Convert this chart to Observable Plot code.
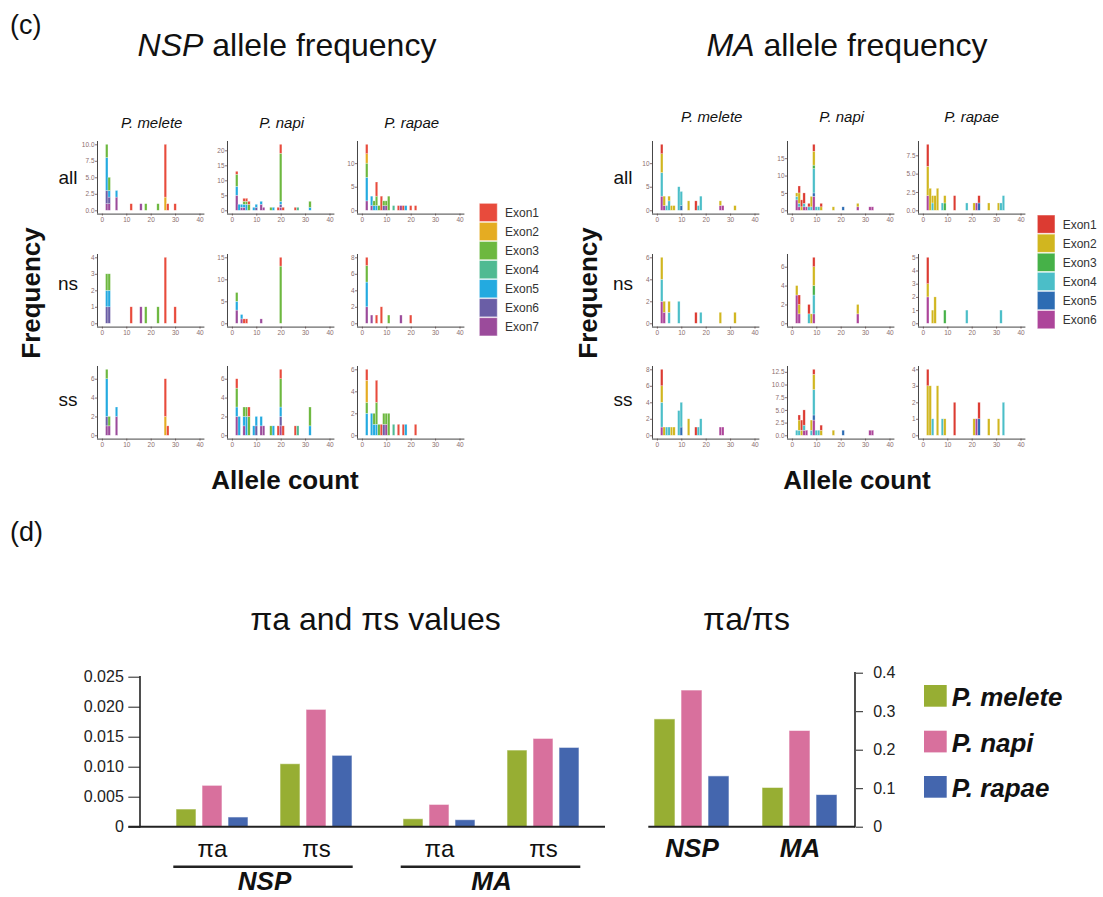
<!DOCTYPE html>
<html><head><meta charset="utf-8">
<script src="https://cdn.jsdelivr.net/npm/d3@7"></script>
<script src="https://cdn.jsdelivr.net/npm/@observablehq/plot@0.6"></script>
<style>
body{margin:0;background:#fff;}
#root{position:relative;width:1103px;height:897px;overflow:hidden;font-family:"Liberation Sans",Arial,Helvetica,sans-serif;}
</style></head><body><div id="root"></div>
<script>
// ---------- (c) allele frequency data: [allele count, exon number, frequency] ----------
const nspExons = ["Exon1","Exon2","Exon3","Exon4","Exon5","Exon6","Exon7"];
const nspColors = ["#e84b3c","#e5ac22","#6db83f","#4fba92","#23aae0","#6a5ea6","#9b4b9b"];
const maExons = ["Exon1","Exon2","Exon3","Exon4","Exon5","Exon6"];
const maColors = ["#dc3b32","#d1b61f","#46b148","#4bbec8","#2d6cb3","#ad459a"];
const speciesNames = ["P. melete","P. napi","P. rapae"];
const rowNames = ["all","ns","ss"];

const nspMeleteAll = [[2,7,1],[2,6,2],[2,5,5],[2,3,2],[3,7,1],[3,6,1],[3,5,1],[3,3,2],[6,7,2],[6,5,1],[12,1,1],[16,7,1],[18,3,1],[23,3,1],[26,2,2],[26,1,8],[27,1,1],[30,1,1]];
const nspMeleteNs = [[2,6,1],[2,5,1],[2,3,1],[3,6,1],[3,5,1],[3,3,1],[12,1,1],[16,7,1],[18,3,1],[23,3,1],[26,1,4],[30,1,1]];
const nspMeleteSs = [[2,7,1],[2,6,1],[2,5,4],[2,3,1],[3,7,1],[3,3,1],[6,7,2],[6,5,1],[26,2,2],[26,1,4],[27,1,1]];
const nspNapiAll = [[2,7,5],[2,5,3],[2,3,4],[2,1,1],[3,5,2],[4,7,1],[4,5,1],[5,7,1],[5,5,1],[5,3,1],[5,1,1],[6,5,2],[6,3,1],[6,1,1],[7,3,2],[7,1,1],[9,5,1],[10,6,1],[10,5,1],[12,7,2],[12,5,1],[13,7,1],[16,3,1],[17,5,1],[19,1,1],[20,7,1],[20,6,1],[20,5,1],[20,3,16],[20,1,3],[21,1,1],[26,1,1],[27,4,1],[32,5,1],[32,3,2]];
const nspNapiNs = [[2,7,3],[2,5,2],[2,3,2],[4,7,1],[4,5,1],[5,1,1],[6,1,1],[12,7,1],[20,3,13],[20,1,2]];
const nspNapiSs = [[2,7,2],[2,5,1],[2,3,2],[2,1,1],[3,5,2],[5,7,1],[5,5,1],[5,3,1],[6,5,2],[6,3,1],[7,3,2],[7,1,1],[9,5,1],[10,6,1],[10,5,1],[12,7,1],[12,5,1],[13,7,1],[16,3,1],[17,5,1],[19,1,1],[20,7,1],[20,6,1],[20,5,1],[20,3,3],[20,1,1],[21,1,1],[26,1,1],[27,4,1],[32,5,1],[32,3,2]];
const nspRapaeAll = [[2,7,2],[2,5,5],[2,3,3],[2,2,2],[2,1,2],[4,7,1],[4,5,2],[5,5,1],[5,3,1],[6,5,1],[6,3,2],[6,1,3],[7,3,1],[8,1,3],[9,6,1],[9,3,1],[10,7,1],[10,3,1],[11,3,3],[13,4,1],[15,1,1],[16,7,1],[17,1,1],[18,5,1],[20,1,1],[22,1,1]];
const nspRapaeNs = [[2,7,2],[2,5,3],[2,3,2],[2,1,1],[4,7,1],[6,1,1],[8,1,2],[11,3,1],[16,7,1],[20,1,1]];
const nspRapaeSs = [[2,5,2],[2,3,1],[2,2,2],[2,1,1],[4,5,2],[5,5,1],[5,3,1],[6,5,1],[6,3,2],[6,1,2],[7,3,1],[8,1,1],[9,6,1],[9,3,1],[10,7,1],[10,3,1],[11,3,2],[13,4,1],[15,1,1],[17,1,1],[18,5,1],[22,1,1]];

const maMeleteAll = [[2,6,3],[2,4,5],[2,2,4],[2,1,2],[3,6,1],[3,2,2],[4,4,1],[5,4,2],[5,2,1],[6,2,1],[7,2,1],[9,4,5],[10,5,1],[10,4,3],[13,2,2],[16,1,2],[17,4,1],[18,4,3],[26,6,1],[26,2,1],[27,6,1],[32,2,1]];
const maMeleteNs = [[2,6,2],[2,4,2],[2,2,2],[3,6,1],[3,2,1],[5,4,1],[5,2,1],[9,4,2],[16,1,1],[18,4,1],[26,2,1],[32,2,1]];
const maMeleteSs = [[2,6,1],[2,4,3],[2,2,2],[2,1,2],[3,2,1],[4,4,1],[5,4,1],[6,2,1],[7,2,1],[9,4,3],[10,5,1],[10,4,3],[13,2,2],[16,1,1],[17,4,1],[18,4,2],[26,6,1],[27,6,1]];
const maNapiAll = [[2,6,3],[2,4,1],[2,2,1],[3,6,1],[3,4,1],[3,2,3],[3,1,2],[4,2,1],[4,1,2],[5,6,1],[5,4,1],[5,1,3],[6,6,1],[7,4,1],[7,1,1],[8,4,1],[8,2,3],[9,6,4],[9,5,1],[9,4,7],[9,3,1],[9,2,4],[9,1,2],[10,4,1],[11,4,1],[12,2,1],[12,1,1],[17,2,1],[21,5,1],[27,6,1],[27,2,1],[32,6,1],[33,6,1]];
const maNapiNs = [[2,6,3],[2,2,1],[3,6,1],[3,2,1],[3,1,1],[7,4,1],[7,1,1],[8,2,1],[9,6,1],[9,4,2],[9,3,1],[9,2,2],[9,1,1],[27,6,1],[27,2,1]];
const maNapiSs = [[2,4,1],[3,4,1],[3,2,2],[3,1,1],[4,2,1],[4,1,2],[5,6,1],[5,4,1],[5,1,3],[6,6,1],[8,4,1],[8,2,2],[9,6,3],[9,5,1],[9,4,5],[9,2,3],[9,1,1],[10,4,1],[11,4,1],[12,2,1],[12,1,1],[17,2,1],[21,5,1],[32,6,1],[33,6,1]];
const maRapaeAll = [[2,6,2],[2,2,4],[2,1,3],[3,2,3],[4,4,1],[4,2,1],[5,2,2],[6,2,3],[8,4,1],[9,3,1],[9,2,1],[13,1,2],[18,4,1],[21,2,1],[22,6,1],[23,5,1],[23,1,1],[27,2,1],[31,2,1],[32,4,1],[33,4,2]];
const maRapaeNs = [[2,6,2],[2,2,1],[2,1,2],[4,2,1],[5,2,2],[9,3,1],[18,4,1],[32,4,1]];
const maRapaeSs = [[2,2,3],[2,1,1],[3,2,3],[4,4,1],[6,2,3],[8,4,1],[9,2,1],[13,1,2],[21,2,1],[22,6,1],[23,5,1],[23,1,1],[27,2,1],[31,2,1],[33,4,2]];

// y tick labels per panel (rows: all, ns, ss; columns: melete, napi, rapae)
const nspYTicks = [
  [[0,2.5,5,7.5,10],[0,5,10,15,20],[0,5,10]],
  [[0,1,2,3,4],[0,5,10,15],[0,2,4,6,8]],
  [[0,2,4,6],[0,2,4,6],[0,2,4,6]]
];
const maYTicks = [
  [[0,5,10],[0,5,10,15],[0,2.5,5,7.5]],
  [[0,2,4,6],[0,2,4,6],[0,1,2,3,4,5]],
  [[0,2,4,6,8],[0,2.5,5,7.5,10,12.5],[0,1,2,3,4]]
];
const xTicks = [0,10,20,30,40];

// ---------- (d) nucleotide diversity ----------
const dSpecies = ["P. melete","P. napi","P. rapae"];
const dColors = ["#97ae33","#d8709d","#4466ae"];
const genes = ["NSP","MA"];
const piA_NSP = [0.00295,0.0069,0.00162];
const piS_NSP = [0.0105,0.01956,0.0119];
const piA_MA = [0.00133,0.00372,0.00117];
const piS_MA = [0.01278,0.01472,0.01322];
const ratio_NSP = [0.280,0.355,0.132];
const ratio_MA = [0.102,0.250,0.0835];
const leftTicks = [0,0.005,0.010,0.015,0.020,0.025];
const rightTicks = [0,0.1,0.2,0.3,0.4];

// ---------- layout ----------
const FONT = "Liberation Sans, Arial, Helvetica, sans-serif";
const root = document.getElementById("root");
function place(el, left, top){ el.style.position="absolute"; el.style.left=left+"px"; el.style.top=top+"px"; root.appendChild(el); }

function panel(rows, yTicks, exonNames, exonColors, axisLeft, baseline){
  const totals = d3.rollup(rows, v => d3.sum(v, d => d[2]), d => d[0]);
  const yMax = d3.max(totals.values());
  const ext = yMax*0.05;
  const mL=20,mR=6,mT=4,mB=12,pw=107.4,ph=72.6;
  const dec = yTicks.some(t => !Number.isInteger(t));
  const fmt = dec ? d3.format(".1f") : d3.format("d");
  const chart = Plot.plot({
    width: mL+pw+mR, height: mT+ph+mB,
    marginLeft: mL, marginRight: mR, marginTop: mT, marginBottom: mB,
    style: {fontSize:"6.5px", fontFamily: FONT, color:"#8c6e6e", background:"transparent", overflow:"visible"},
    x: {domain:[-2,42], ticks: xTicks, tickSize:2, tickPadding:1, label:null},
    y: {domain:[-ext, yMax+ext], ticks: yTicks, tickSize:2, tickPadding:1, label:null, tickFormat: fmt},
    color: {domain: exonNames, range: exonColors},
    marks: [
      Plot.rectY(rows, {x1: d => d[0]-0.5, x2: d => d[0]+0.5, y: d => d[2], fill: d => exonNames[d[1]-1],
        order: "z", reverse: true, stroke: "white", strokeOpacity: 0.55, strokeWidth: 0.5}),
      Plot.ruleX([-2], {stroke:"#444", strokeWidth:1}),
      Plot.ruleY([-ext], {stroke:"#444", strokeWidth:1})
    ]
  });
  place(chart, axisLeft - mL, baseline - 69.3 - mT);
}

const rowBaselines = [210, 323, 435];
const nspLefts = [97, 227, 357];
const maLefts = [651.8, 786.8, 917.8];
const nspGrid = [[nspMeleteAll,nspNapiAll,nspRapaeAll],[nspMeleteNs,nspNapiNs,nspRapaeNs],[nspMeleteSs,nspNapiSs,nspRapaeSs]];
const maGrid = [[maMeleteAll,maNapiAll,maRapaeAll],[maMeleteNs,maNapiNs,maRapaeNs],[maMeleteSs,maNapiSs,maRapaeSs]];
for (let r=0;r<3;r++) for (let c=0;c<3;c++){
  panel(nspGrid[r][c], nspYTicks[r][c], nspExons, nspColors, nspLefts[c], rowBaselines[r]);
  panel(maGrid[r][c], maYTicks[r][c], maExons, maColors, maLefts[c], rowBaselines[r]);
}

// ---------- (d) left chart: πa and πs ----------
const slotsLeft = ["πa|P. melete","πa|P. napi","πa|P. rapae","gap","πs|P. melete","πs|P. napi","πs|P. rapae"];
const piTable = {NSP:{"πa":piA_NSP,"πs":piS_NSP}, MA:{"πa":piA_MA,"πs":piS_MA}};
const leftBars = genes.flatMap(g => ["πa","πs"].flatMap(t => dSpecies.map((s,i) => ({gene:g, slot:t+"|"+s, sp:s, v:piTable[g][t][i]}))));
const typeLabels = genes.flatMap(g => ["πa","πs"].map(t => ({gene:g, slot:t+"|P. napi", label:t})));
const geneLabelsLeft = genes.map(g => ({gene:g, slot:"gap", label:g}));
const leftChart = Plot.plot({
  width: 620, height: 237, marginLeft: 140, marginRight: 25.2, marginTop: 16.7, marginBottom: 70.3,
  style: {fontSize:"16px", fontFamily: FONT, color:"#222", background:"transparent", overflow:"visible"},
  fx: {domain: genes, paddingInner: 0, paddingOuter: 0, axis: null},
  x: {domain: slotsLeft, paddingInner: 0.213, paddingOuter: 0.865, align: 0.721, axis: null},
  y: {domain: [0,0.025], ticks: leftTicks, tickSize: 11.7, tickPadding: 5, label: null,
      tickFormat: d => d === 0 ? "0" : d3.format(".3f")(d)},
  color: {domain: dSpecies, range: dColors},
  marks: [
    Plot.barY(leftBars, {fx:"gene", x:"slot", y:"v", fill:"sp", stroke:"white", strokeOpacity:0.6, strokeWidth:1}),
    Plot.text(typeLabels, {fx:"gene", x:"slot", text:"label", frameAnchor:"bottom", lineAnchor:"bottom", dy:30, fontSize:24, fill:"#111"}),
    Plot.text(geneLabelsLeft, {fx:"gene", x:"slot", text:"label", frameAnchor:"bottom", lineAnchor:"bottom", dy:63, fontSize:26, fontWeight:"bold", fontStyle:"italic", fill:"#111"})
  ]
});
place(leftChart, 0, 660);

// ---------- (d) right chart: πa/πs ----------
const slotsRight = ["NSP|P. melete","NSP|P. napi","NSP|P. rapae","gap","MA|P. melete","MA|P. napi","MA|P. rapae"];
const ratioTable = {NSP: ratio_NSP, MA: ratio_MA};
const rightBars = genes.flatMap(g => dSpecies.map((s,i) => ({slot:g+"|"+s, sp:s, v:ratioTable[g][i]})));
const geneLabelsRight = genes.map(g => ({slot:g+"|P. napi", label:g}));
const rightChart = Plot.plot({
  width: 315, height: 237, marginLeft: 48.3, marginRight: 60, marginTop: 12.7, marginBottom: 70.3,
  style: {fontSize:"16px", fontFamily: FONT, color:"#222", background:"transparent", overflow:"visible"},
  x: {domain: slotsRight, paddingInner: 0.225, paddingOuter: 0.389, align: 0.235, axis: null},
  y: {domain: [0,0.4], ticks: rightTicks, axis: "right", tickSize: 7, tickPadding: 10.7, label: null,
      tickFormat: d => d === 0 ? "0" : d3.format(".1f")(d)},
  color: {domain: dSpecies, range: dColors},
  marks: [
    Plot.barY(rightBars, {x:"slot", y:"v", fill:"sp", stroke:"white", strokeOpacity:0.6, strokeWidth:1}),
    Plot.text(geneLabelsRight, {x:"slot", text:"label", frameAnchor:"bottom", lineAnchor:"bottom", dy:30, fontSize:26, fontWeight:"bold", fontStyle:"italic", fill:"#111"})
  ]
});
place(rightChart, 600, 660);

// ---------- overlay: titles, labels, legends, axis lines ----------
const ov = d3.create("svg").attr("width",1103).attr("height",897)
  .style("position","absolute").style("left","0px").style("top","0px").style("pointer-events","none")
  .attr("font-family", FONT);
function txt(t, x, y, o={}){
  const e = ov.append("text").attr("x",x).attr("y",y).attr("font-size",o.size||12)
    .attr("text-anchor",o.anchor||"start").attr("fill",o.fill||"#111");
  if (o.weight) e.attr("font-weight",o.weight);
  if (o.style) e.attr("font-style",o.style);
  if (o.transform) e.attr("transform",o.transform);
  e.text(t); return e;
}
txt("(c)", 10, 34, {size:27});
txt("(d)", 10, 541, {size:27});
function title(gene, cx){
  const e = ov.append("text").attr("x",cx).attr("y",56).attr("font-size",32).attr("text-anchor","middle").attr("fill","#111");
  e.append("tspan").attr("font-style","italic").text(gene);
  e.append("tspan").text(" allele frequency");
}
title("NSP", 287); title("MA", 847);
const nspSpX = [151.7,281.7,411.7], maSpX = [711.7,841.7,971.7];
speciesNames.forEach((s,i) => {
  txt(s, nspSpX[i], 128.3, {size:15, anchor:"middle", style:"italic"});
  txt(s, maSpX[i], 121.7, {size:15, anchor:"middle", style:"italic"});
});
const rowLabelY = [184, 290, 406];
rowNames.forEach((r,i) => {
  txt(r, 68, rowLabelY[i], {size:19, anchor:"middle"});
  txt(r, 623, rowLabelY[i], {size:19, anchor:"middle"});
});
txt("Frequency", 0, 0, {size:26, weight:"bold", anchor:"middle", transform:"translate(40,293) rotate(-90)"});
txt("Frequency", 0, 0, {size:26, weight:"bold", anchor:"middle", transform:"translate(597,293) rotate(-90)"});
txt("Allele count", 285, 489, {size:26, weight:"bold", anchor:"middle"});
txt("Allele count", 857, 489, {size:26, weight:"bold", anchor:"middle"});
nspExons.forEach((e,i) => {
  ov.append("rect").attr("x",479.3).attr("y",203.3+i*19.06).attr("width",18).attr("height",18.3).attr("fill",nspColors[i]).attr("stroke","white").attr("stroke-opacity",0.5);
  txt(e, 505, 216.8+i*19.06, {size:12, fill:"#333"});
});
maExons.forEach((e,i) => {
  ov.append("rect").attr("x",1037.3).attr("y",215+i*19.1).attr("width",17.7).attr("height",18.3).attr("fill",maColors[i]).attr("stroke","white").attr("stroke-opacity",0.5);
  txt(e, 1062.7, 228.5+i*19.1, {size:12, fill:"#333"});
});
txt("πa and πs values", 375.5, 630, {size:32, anchor:"middle"});
txt("πa/πs", 746.5, 630, {size:32, anchor:"middle"});
const legY = [685, 730.7, 776];
dSpecies.forEach((s,i) => {
  ov.append("rect").attr("x",924).attr("y",legY[i]).attr("width",22.7).attr("height",21.7).attr("fill",dColors[i]);
  txt(s, 951.7, legY[i]+21, {size:26, weight:"bold", style:"italic"});
});
function line(x1,y1,x2,y2,w){ ov.append("line").attr("x1",x1).attr("y1",y1).attr("x2",x2).attr("y2",y2).attr("stroke","#222").attr("stroke-width",w); }
line(140,676,140,827.5,1.6);
line(128.3,826.7,605,826.7,2);
line(855,672,855,827.5,1.6);
line(648.3,826.7,855,826.7,2);
line(173.3,866.7,352.7,866.7,2.5);
line(400.7,866.7,580.3,866.7,2.5);
root.appendChild(ov.node());
</script></body></html>
